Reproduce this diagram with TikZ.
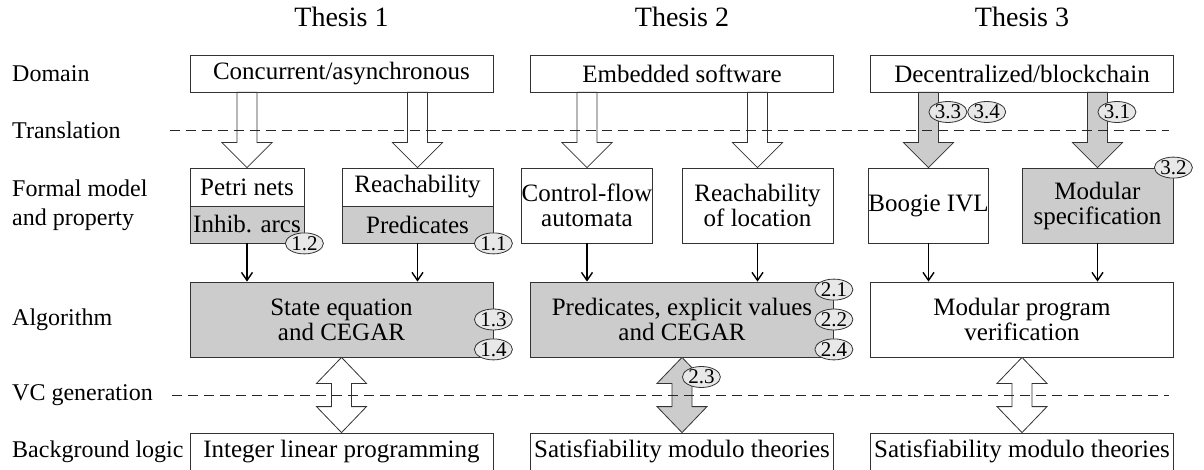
\documentclass[tikz,border=0pt]{standalone}
\usepackage{fontspec}
\setmainfont{LiberationSerif}[Extension=.ttf, UprightFont=*-Regular, BoldFont=*-Bold, ItalicFont=*-Italic, BoldItalicFont=*-BoldItalic]
\usetikzlibrary{calc,arrows.meta,shapes.geometric}

\definecolor{boxgray}{HTML}{CCCCCC}
\definecolor{badgegray}{HTML}{E8E8E8}

\tikzset{
  box/.style={draw=black!80, line width=0.8pt, inner sep=0pt, align=center,
    minimum width=303pt, font=\fontsize{25}{25}\selectfont},
  shaded/.style={box, fill=boxgray},
  badge/.style={draw=black!80, ellipse, fill=badgegray, line width=0.8pt,
    minimum width=38pt, minimum height=21pt, inner sep=0pt,
    font=\fontsize{21}{21}\selectfont},
  rowlabel/.style={anchor=west, align=left, inner sep=0pt,
    font=\fontsize{24}{29}\selectfont},
  thesis/.style={font=\fontsize{28}{28}\selectfont},
  thin/.style={line width=1.4pt, -{Straight Barb[length=8pt,width=11pt]}},
  sep/.style={draw=black!85, line width=0.8pt, dash pattern=on 10pt off 6pt},
  fat/.style={draw=black!80, line width=0.8pt, to path={let \p1=(\tikztostart), \p2=(\tikztotarget) in
    (\x1-10pt,\y1) -- (\x1-10pt,\y2+25pt) -- (\x1-25pt,\y2+25pt) -- (\x2,\y2)
    -- (\x1+25pt,\y2+25pt) -- (\x1+10pt,\y2+25pt) -- (\x1+10pt,\y1) -- cycle}},
  twofat/.style={draw=black!80, line width=0.8pt, to path={let \p1=(\tikztostart), \p2=(\tikztotarget) in
    (\x1,\y1) -- (\x1+25pt,\y1-26pt) -- (\x1+10pt,\y1-26pt) -- (\x1+10pt,\y2+26pt)
    -- (\x1+25pt,\y2+26pt) -- (\x2,\y2) -- (\x1-25pt,\y2+26pt) -- (\x1-10pt,\y2+26pt)
    -- (\x1-10pt,\y1-26pt) -- (\x1-25pt,\y1-26pt) -- cycle}}
}

\begin{document}
\begin{tikzpicture}[x=1pt,y=-1pt]

\useasboundingbox (0,0) rectangle (1204,470);

%%%%%% headings
\node[thesis] (t1) at (341.5,17) {Thesis 1};
\node[thesis] (t2) at (682,17) {Thesis 2};
\node[thesis] (t3) at (1022,17) {Thesis 3};

%row labels
\node[rowlabel] (ldom) at (12,73.5) {Domain};
\node[rowlabel] (ltra) at (12,130) {Translation};
\node[rowlabel] (lfor) at (12,205.5) {Formal model\\and property};
\node[rowlabel] (lalg) at (12,319.5) {Algorithm};
\node[rowlabel] (lvc) at (12,395) {VC generation};
\node[rowlabel] (lbg) at (12,451.5) {Background logic};

%%%%%% domain
\node[box, minimum height=37pt] (dom1) at (341.5,73.5) {Concurrent/asynchronous};
\node[box, minimum height=37pt] (dom2) at (682,73.5) {Embedded software};
\node[box, minimum height=37pt] (dom3) at (1022,73.5) {Decentralized/blockchain};

%%%%%% formal model and property
%thesis 1
\node[box, minimum width=114pt, minimum height=38pt] (pet) at (247,187) {Petri nets};
\node[shaded, minimum width=114pt, minimum height=37pt] (inh) at (247,224.5) {Inhib. arcs};
\node[box, minimum width=151pt, minimum height=38pt] (reach) at (417.5,187) {Reachability};
\node[shaded, minimum width=151pt, minimum height=37pt] (pred) at (417.5,224.5) {Predicates};

%thesis 2
\node[box, minimum width=126pt, minimum height=75pt] (cfa) at (587,205.5) {Control-flow\\automata};
\node[box, minimum width=151pt, minimum height=75pt] (loc) at (757.5,205.5) {Reachability\\of location};

%thesis 3
\node[box, minimum width=113pt, minimum height=75pt] (boog) at (928.5,205.5) {Boogie IVL};
\node[shaded, minimum width=151pt, minimum height=75pt] (spec) at (1097.5,205.5) {Modular\\specification};

%%%%%% algorithm
\node[shaded, minimum height=75pt] (alg1) at (341.5,319.5) {State equation\\and CEGAR};
\node[shaded, minimum height=75pt] (alg2) at (682,319.5) {Predicates, explicit values\\and CEGAR};
\node[box, minimum height=75pt] (alg3) at (1022,319.5) {Modular program\\verification};

%%%%%% background logic
\node[box, minimum height=37pt] (bg1) at (341.5,451.5) {Integer linear programming};
\node[box, minimum height=37pt] (bg2) at (682,451.5) {Satisfiability modulo theories};
\node[box, minimum height=37pt] (bg3) at (1022,451.5) {Satisfiability modulo theories};

%translation arrows
\draw[fat, fill=white] (dom1.south -| pet.north) to (pet.north);
\draw[fat, fill=white] (dom1.south -| reach.north) to (reach.north);
\draw[fat, fill=white] (dom2.south -| cfa.north) to (cfa.north);
\draw[fat, fill=white] (dom2.south -| loc.north) to (loc.north);
\draw[fat, fill=boxgray] (dom3.south -| boog.north) to (boog.north);
\draw[fat, fill=boxgray] (dom3.south -| spec.north) to (spec.north);

%model to algorithm
\draw[thin] (inh.south) -- (inh.south |- alg1.north);
\draw[thin] (pred.south) -- (pred.south |- alg1.north);
\draw[thin] (cfa.south) -- (cfa.south |- alg2.north);
\draw[thin] (loc.south) -- (loc.south |- alg2.north);
\draw[thin] (boog.south) -- (boog.south |- alg3.north);
\draw[thin] (spec.south) -- (spec.south |- alg3.north);

%vc generation arrows
\draw[twofat, fill=white] (alg1.south) to (bg1.north);
\draw[twofat, fill=boxgray] (alg2.south) to (bg2.north);
\draw[twofat, fill=white] (alg3.south) to (bg3.north);

%dashed separators
\coordinate (tra0) at (170,130);
\coordinate (vc0) at (172,395);
\draw[sep] (tra0) -- ([xshift=-5pt]tra0 -| dom3.east);
\draw[sep] (vc0) -- ([xshift=-5pt]vc0 -| bg3.east);

%%%%%% badges
\node[badge] (b12) at (inh.south east) {1.2};
\node[badge] (b11) at (pred.south east) {1.1};
\node[badge] (b13) at (alg1.east) {1.3};
\node[badge] (b14) at ([yshift=8pt]alg1.south east) {1.4};
\node[badge] (b21) at ([yshift=-8pt]alg2.north east) {2.1};
\node[badge] (b22) at (alg2.east) {2.2};
\node[badge] (b24) at ([yshift=8pt]alg2.south east) {2.4};
\node[badge, anchor=west] (b23) at (alg2.south |- 0,377) {2.3};
\node[badge, anchor=west] (b33) at (boog.north |- 0,112) {3.3};
\node[badge, anchor=west] (b34) at (b33.east) {3.4};
\node[badge, anchor=west] (b31) at (spec.north |- 0,112) {3.1};
\node[badge] (b32) at (spec.north east) {3.2};

\end{tikzpicture}
\end{document}
